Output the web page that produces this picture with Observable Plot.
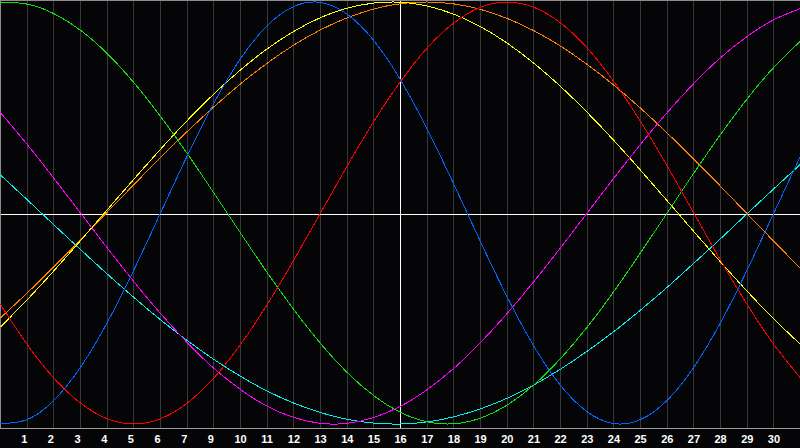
<!DOCTYPE html>
<html><head><meta charset="utf-8">
<script src="https://cdn.jsdelivr.net/npm/d3@7"></script>
<script src="https://cdn.jsdelivr.net/npm/@observablehq/plot@0.6"></script>
<style>html,body{margin:0;padding:0;background:#050507;overflow:hidden}#chart svg{display:block}</style>
</head><body><div id="chart"></div>
<script>
const days = [0,1,2,3,4,5,6,7,8,9,10,11,12,13,14,15,16,17,18,19,20,21,22,23,24,25,26,27,28,29,30];

const physical = [-99.8,-97.9,-88.8,-73.1,-52.0,-27.0,0,27.0,52.0,73.1,88.8,97.9,99.8,94.2,81.7,63.1,39.8,13.6,-13.6,-39.8,-63.1,-81.7,-94.2,-99.8,-97.9,-88.8,-73.1,-52.0,-27.0,0,27.0];
const emotional = [-43.4,-62.3,-78.2,-90.1,-97.5,-100,-97.5,-90.1,-78.2,-62.3,-43.4,-22.3,0,22.3,43.4,62.3,78.2,90.1,97.5,100,97.5,90.1,78.2,62.3,43.4,22.3,0,-22.3,-43.4,-62.3,-78.2];
const intellectual = [99.9,99.0,94.5,86.6,75.6,61.8,45.8,28.2,9.5,-9.5,-28.2,-45.8,-61.8,-75.6,-86.6,-94.5,-99.0,-99.9,-97.2,-91.0,-81.5,-69.0,-54.1,-37.2,-18.9,0,18.9,37.2,54.1,69.0,81.5];
const intuitive = [47.6,32.5,16.5,0,-16.5,-32.5,-47.6,-61.4,-73.6,-83.7,-91.6,-96.9,-99.7,-99.7,-96.9,-91.6,-83.7,-73.6,-61.4,-47.6,-32.5,-16.5,0,16.5,32.5,47.6,61.4,73.6,83.7,91.6,96.9];
const aesthetic = [-54.0,-41.1,-27.4,-13.1,1.5,16.0,30.2,43.8,56.4,67.8,77.8,86.1,92.6,97.1,99.5,99.9,98.1,94.2,88.3,80.5,71.0,60.0,47.7,34.4,20.3,5.8,-8.8,-23.2,-37.1,-50.2,-62.3];
const awareness = [-49.7,-37.9,-25.5,-12.7,0.4,13.4,26.3,38.6,50.3,61.2,71.0,79.6,86.8,92.5,96.7,99.2,100,99.1,96.5,92.2,86.4,79.1,70.4,60.6,49.7,37.9,25.5,12.7,-0.4,-13.4,-26.3];
const spiritual = [18.0,6.3,-5.6,-17.3,-28.9,-40.0,-50.6,-60.4,-69.4,-77.4,-84.4,-90.1,-94.6,-97.8,-99.6,-100.0,-99.0,-96.6,-92.8,-87.8,-81.5,-74.0,-65.5,-56.2,-46.0,-35.2,-23.8,-12.2,-0.3,11.5,23.1];

const seriesNames = ["Spiritual","Awareness","Aesthetic","Intuitive","Intellectual","Emotional","Physical"];
const seriesColors = ["#00f0f0","#ff8000","#ffff00","#ff00ff","#10e010","#ff0000","#0064ff"];
const seriesValues = [spiritual, awareness, aesthetic, intuitive, intellectual, emotional, physical];

const gridDays = [1,2,3,4,5,6,7,8,9,10,11,12,13,14,16,17,18,19,20,21,22,23,24,25,26,27,28,29];
const centerDay = [15];
const tickPositions = [1,2,3,4,5,6,7,8,9,10,11,12,13,14,15,16,17,18,19,20,21,22,23,24,25,26,27,28,29];
const tickLabels = ["1","2","3","4","5","6","7","9","10","11","12","13","14","15","16","17","18","19","20","21","22","23","24","25","26","27","28","29","30"];

const rows = seriesNames.flatMap((name, s) => seriesValues[s].map((v, i) => ({series: name, day: days[i], value: v})));

const border = "#8c8c8c";
const chart = Plot.plot({
  width: 800, height: 448,
  marginTop: 0, marginLeft: 0, marginRight: 0, marginBottom: 20,
  x: {domain: [0, 30], axis: null},
  y: {domain: [-100, 100], range: [423.5, 1.5], axis: null},
  color: {domain: seriesNames, range: seriesColors},
  style: {background: "#050507", overflow: "visible"},
  marks: [
    Plot.ruleX(gridDays, {x: d => d, stroke: "#383838"}),
    Plot.ruleX(centerDay, {x: d => d, stroke: "#ffffff"}),
    Plot.ruleY([0], {y: d => d, stroke: "#ffffff", dy: 1.5}),
    Plot.frame({anchor: "left", stroke: border}),
    Plot.frame({anchor: "top", stroke: border}),
    Plot.frame({anchor: "bottom", stroke: "#9a9a9a"}),
    Plot.line(rows, {x: "day", y: "value", z: "series", stroke: "series", strokeWidth: 1, curve: "natural"}),
    Plot.text(tickPositions, {x: d => d, text: (d, i) => tickLabels[i], frameAnchor: "bottom", lineAnchor: "top", dy: 7, dx: -6, textAnchor: "start", fill: "#ffffff", fontWeight: "bold", fontSize: 11, fontFamily: "Liberation Sans, Arial, sans-serif"})
  ]
});
chart.querySelectorAll("path, line, rect").forEach(el => el.setAttribute("shape-rendering", "crispEdges"));
document.getElementById("chart").appendChild(chart);
</script>
</body></html>
